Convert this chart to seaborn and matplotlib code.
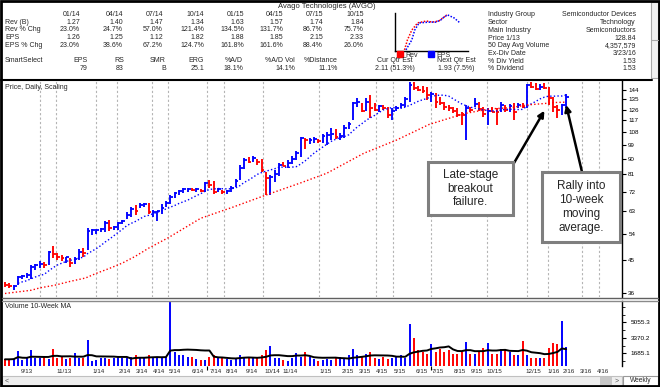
import numpy as np
import pandas as pd
import matplotlib.pyplot as plt
import seaborn as sns
from matplotlib.patches import Rectangle
from matplotlib.ticker import NullLocator, FixedLocator

# weekly bars, week 0 = first bar on the chart (Aug 2013)
high = [38.8, 38.6, 38.0, 40.5, 40.8, 41.2, 43.5, 43.9, 44.8, 44.5,
        48.0, 49.5, 47.3, 46.6, 46.2, 45.6, 46.0, 48.5, 49.0, 56.2,
        55.6, 55.8, 56.0, 59.0, 59.2, 57.0, 58.5, 59.3, 62.5, 65.0,
        65.5, 66.5, 66.8, 66.5, 63.3, 63.0, 66.0, 67.5, 70.2, 71.6,
        72.6, 73.6, 73.8, 73.8, 73.6, 73.5, 76.8, 77.7, 77.5, 73.8,
        72.8, 72.6, 74.6, 78.6, 86.0, 90.5, 91.0, 91.5, 90.2, 90.0,
        82.5, 80.5, 83.5, 87.5, 88.0, 89.0, 91.5, 95.0, 104.5, 104.0,
        103.5, 104.5, 103.0, 106.5, 108.0, 111.0, 110.0, 107.0, 113.0, 116.0,
        133.0, 136.0, 131.8, 136.0, 139.0, 132.0, 130.0, 130.0, 128.5, 127.5,
        129.0, 131.8, 137.0, 152.0, 152.0, 148.0, 148.0, 147.0, 141.8, 141.0,
        137.5, 133.0, 130.0, 128.0, 127.0, 124.0, 130.0, 128.0, 136.0, 133.0,
        128.0, 127.4, 128.3, 127.4, 132.7, 130.0, 131.0, 131.8, 131.8, 131.8,
        150.0, 152.0, 151.0, 150.0, 151.0, 147.0, 137.0, 130.0, 131.0, 139.9]
low = [37.5, 37.2, 36.8, 38.0, 39.5, 39.8, 39.6, 42.2, 42.6, 42.8,
       43.6, 45.8, 45.2, 44.8, 44.3, 43.0, 44.0, 45.0, 45.9, 48.4,
       53.5, 54.0, 54.5, 54.5, 55.0, 55.3, 55.5, 57.5, 59.8, 60.5,
       61.5, 64.5, 64.8, 61.8, 60.6, 59.0, 61.7, 64.6, 66.0, 68.9,
       70.2, 71.2, 72.0, 72.4, 71.8, 71.8, 72.0, 73.6, 71.0, 72.0,
       70.8, 71.0, 72.0, 74.1, 77.7, 83.8, 87.7, 88.0, 86.5, 82.5,
       70.5, 70.2, 77.0, 80.0, 85.5, 84.5, 87.0, 89.5, 91.0, 96.5,
       99.5, 100.3, 100.0, 100.0, 98.6, 102.3, 103.0, 102.3, 103.7, 110.0,
       117.0, 128.0, 124.0, 124.5, 119.0, 125.0, 124.0, 126.0, 119.0, 117.5,
       124.5, 127.5, 128.0, 132.7, 144.0, 143.0, 141.0, 134.5, 132.7, 127.4,
       130.0, 125.7, 125.0, 123.0, 120.0, 113.0, 102.3, 124.0, 128.0, 124.5,
       120.0, 113.0, 123.9, 113.0, 123.9, 123.9, 123.9, 117.5, 127.0, 127.0,
       127.4, 146.0, 144.0, 144.0, 145.0, 130.0, 123.9, 119.1, 121.5, 127.4]
close = [38.0, 37.8, 37.9, 40.3, 40.4, 40.6, 43.0, 43.5, 44.0, 43.5,
         47.5, 47.0, 46.0, 45.7, 45.9, 44.2, 45.5, 47.5, 47.2, 55.0,
         55.3, 55.5, 55.8, 58.0, 56.0, 56.4, 58.0, 59.0, 61.5, 63.8,
         63.2, 65.5, 66.0, 62.5, 62.7, 62.9, 64.5, 66.5, 69.5, 71.2,
         72.4, 73.2, 73.5, 73.0, 73.3, 72.5, 76.2, 75.5, 72.0, 73.2,
         71.6, 72.3, 74.0, 77.5, 84.5, 89.5, 88.3, 90.5, 88.0, 83.5,
         79.0, 79.5, 81.0, 86.0, 85.5, 87.5, 90.0, 93.5, 103.5, 102.0,
         102.5, 103.0, 101.5, 105.5, 106.0, 106.5, 104.5, 105.5, 111.0, 114.0,
         132.0, 133.0, 125.0, 133.0, 127.0, 126.0, 129.0, 127.5, 121.0, 124.5,
         127.5, 130.0, 135.0, 149.0, 145.5, 144.0, 143.0, 139.0, 140.0, 133.0,
         132.0, 128.5, 127.0, 124.5, 121.5, 121.0, 127.0, 126.0, 131.0, 126.5,
         122.0, 125.0, 124.0, 123.5, 130.0, 126.0, 129.0, 124.0, 130.0, 128.0,
         149.0, 147.0, 145.0, 147.0, 146.0, 136.0, 128.0, 126.0, 130.0, 137.0]
volume = [1030, 1030, 1100, 1940, 920, 1140, 2050, 1210, 1140, 1320,
          1030, 2160, 1210, 1320, 1030, 1140, 1690, 1140, 1140, 3100,
          820, 920, 1140, 1140, 1030, 1140, 1320, 1140, 1140, 1320,
          1500, 1140, 1140, 1500, 1210, 1320, 1140, 1320, 8200, 1870,
          1500, 1500, 1320, 1320, 1030, 920, 920, 1320, 1500, 1140,
          1320, 1030, 920, 1140, 1500, 1320, 1140, 1140, 1320, 1500,
          2050, 2480, 1210, 1140, 990, 820, 1140, 1760, 1320, 1870,
          1320, 1030, 820, 920, 1030, 920, 1140, 1320, 1140, 1500,
          2200, 1500, 1320, 1580, 1830, 1140, 1030, 1320, 1030, 1140,
          1320, 1500, 1140, 4910, 3350, 2010, 1830, 1650, 2740, 1830,
          2200, 1830, 2010, 1650, 1650, 1830, 2880, 1650, 1650, 1830,
          2260, 2810, 1650, 1650, 2200, 2010, 1830, 1500, 1500, 3040,
          1500, 1140, 1140, 1140, 1140, 2230, 2810, 2740, 5200, 2340]
prev_close = 38.6

# 40-week moving average
ma40_week = [0, 3, 6, 8, 11.5, 15, 18.5, 21, 24, 27, 30, 33, 37.5, 45, 52.5,
             60, 68, 74, 82.5, 90, 97.5, 105.5, 111.5, 116, 120, 124, 127, 129]
ma40_price = [35.9, 36.3, 36.7, 37.3, 38.0, 39.0, 39.9, 41.2, 42.6, 44.2, 46.3,
              48.9, 52.5, 60.0, 64.8, 70.3, 76.4, 81.6, 93.5, 102.3, 113.8,
              122.5, 126.6, 127.5, 130.0, 131.3, 132.3, 132.5]

price_ticks = [36, 45, 54, 63, 72, 81, 90, 99, 108, 117, 126, 135, 144]
vol_ticks = [1685.1, 3370.2, 5055.3]

date_labels = ["9/13", "11/13", "1/14", "2/14", "3/14", "4/14", "5/14", "6/14",
               "7/14", "8/14", "9/14", "10/14", "11/14", "1/15", "2/15", "3/15",
               "4/15", "5/15", "6/15", "7/15", "8/15", "9/15", "10/15", "12/15",
               "1/16", "2/16", "3/16", "4/16"]
date_weeks = [5.1, 13.6, 21.6, 27.6, 31.5, 35.4, 39.1, 44.4, 48.5, 52.2, 56.8,
              61.4, 65.5, 73.6, 78.9, 82.8, 86.7, 90.8, 95.9, 99.5, 104.6, 108.5,
              112.6, 121.4, 126.0, 129.7, 133.6, 137.5]
grid_weeks = [8.0, 11.7, 20.9, 25.7, 33.8, 37.5, 46.4, 50.3, 59.3, 72.2, 85.3,
              89.2, 97.9, 110.8, 120.0, 124.8, 132.6, 136.6]

quarters = ["01/14", "04/14", "07/14", "10/14", "01/15", "04/15", "07/15", "10/15"]
rev = ["1.27", "1.40", "1.47", "1.34", "1.63", "1.57", "1.74", "1.84"]
rev_chg = ["23.0%", "24.7%", "57.0%", "121.4%", "134.5%", "131.7%", "86.7%", "75.7%"]
eps = ["1.26", "1.25", "1.12", "1.82", "1.88", "1.85", "2.15", "2.33"]
eps_chg = ["23.0%", "38.6%", "67.2%", "124.7%", "161.8%", "161.6%", "88.4%", "26.0%"]
smart_names = ["EPS", "RS", "SMR", "ERG", "%A/D", "%A/D Vol", "%Distance"]
smart_vals = ["79", "83", "B", "25.1", "18.1%", "14.1%", "11.1%"]
info_names = ["Industry Group", "Sector", "Main Industry", "Price 1/13",
              "50 Day Avg Volume", "Ex-Div Date", "% Div Yield", "% Dividend"]
info_vals = ["Semiconductor Devices", "Technology", "Semiconductors", "128.84",
             "4,357,579", "3/23/16", "1.53", "1.53"]

mini_rev_x = [.13, .17, .23, .31, .43, .51, .60, .67, .71]
mini_rev_y = [.03, .29, .55, .74, .79, .76, .79, .89, .95]
mini_eps_x = [.15, .23, .27, .33, .47, .56, .63, .67, .72, .81, .89]
mini_eps_y = [.03, .29, .55, .74, .76, .76, .82, .89, .95, .87, .74]

sns.set_style("white")
plt.rcParams['font.family'] = ['Liberation Sans', 'DejaVu Sans']

df = pd.DataFrame({"high": high, "low": low, "close": close, "volume": volume})
df["week"] = np.arange(len(df))
chg = df["close"].diff()
chg.iloc[0] = df["close"].iloc[0] - prev_close
df["color"] = np.where(chg >= 0, "#0000ff", "#ff0000")
df["ma10"] = df["close"].rolling(10, min_periods=4).mean()
df["vol_ma"] = df["volume"].rolling(10, min_periods=1).mean()

W, H = 660, 387
BLUE, RED = "#0000ff", "#ff0000"


def box(x0, y0, x1, y1):
    # pixel rectangle (top-left origin) -> figure fraction
    return [x0 / W, 1 - y1 / H, (x1 - x0) / W, (y1 - y0) / H]


fig = plt.figure(figsize=(W / 100, H / 100), dpi=100)
ax_p = fig.add_axes(box(3, 81, 622, 297))
ax_v = fig.add_axes(box(3, 301, 622, 366))
ax_m = fig.add_axes(box(395, 13, 468, 51))
ov = fig.add_axes([0, 0, 1, 1], zorder=10)
ov.set_xlim(0, W)
ov.set_ylim(H, 0)
ov.axis("off")
ov.patch.set_visible(False)

xlim = ((3 - 5) / 4.35, (622 - 5) / 4.35)

# ---- price panel
for g in grid_weeks:
    ax_p.axvline(g, color="#b4b4b4", lw=0.8, ls=(0, (2, 2)), zorder=0)
ax_p.vlines(df["week"], df["low"], df["high"], colors=df["color"], lw=1.35)
ax_p.hlines(df["close"], df["week"], df["week"] + 0.65, colors=df["color"], lw=1.3)
sns.lineplot(data=df, x="week", y="ma10", color=BLUE, lw=1, ls=(0, (1, 1.6)), ax=ax_p)
sns.lineplot(x=ma40_week, y=ma40_price, color=RED, lw=1, ls=(0, (1, 1.6)), ax=ax_p)
ax_p.set_yscale("log")
ax_p.set_ylim(35.05, 153.1)
ax_p.set_xlim(*xlim)
ax_p.yaxis.tick_right()
ax_p.yaxis.set_major_locator(FixedLocator(price_ticks))
ax_p.yaxis.set_minor_locator(NullLocator())
ax_p.set_yticklabels([str(t) for t in price_ticks])
ax_p.set_xticks([])
ax_p.set_xlabel("")
ax_p.set_ylabel("")
ax_p.tick_params(axis="y", labelsize=4.5, length=3, width=0.8, pad=1.5, right=True, colors="black")
for s in ["left", "top", "bottom"]:
    ax_p.spines[s].set_visible(False)
ax_p.spines["right"].set_color("black")
ax_p.spines["right"].set_linewidth(1)
ax_p.text(0.003, 0.985, "Price, Daily, Scaling", transform=ax_p.transAxes,
          fontsize=5, va="top", ha="left")

# ---- volume panel
ax_v.vlines(df["week"], 0, df["volume"], colors=df["color"], lw=1.4)
sns.lineplot(data=df, x="week", y="vol_ma", color="black", lw=1.4, ax=ax_v)
ax_v.set_ylim(304, 7376)
ax_v.set_xlim(*xlim)
ax_v.yaxis.tick_right()
ax_v.set_yticks(vol_ticks)
ax_v.set_yticklabels([f"{v:.1f}" for v in vol_ticks])
ax_v.yaxis.set_minor_locator(FixedLocator([843, 2528, 4213, 5898, 6740]))
ax_v.tick_params(axis="y", which="major", labelsize=4.6, length=3, width=0.8, pad=3, colors="black")
ax_v.tick_params(axis="y", which="minor", length=2, width=0.7, right=True, left=False)
ax_v.set_xticks(date_weeks)
ax_v.set_xticklabels(date_labels)
ax_v.tick_params(axis="x", labelsize=4.5, length=0, pad=2.5)
ax_v.set_xlabel("")
ax_v.set_ylabel("")
for s in ["left", "top", "bottom"]:
    ax_v.spines[s].set_visible(False)
ax_v.spines["right"].set_color("black")
ax_v.spines["right"].set_linewidth(1)
ax_v.vlines([46.4, 97.9], -0.06, 0, transform=ax_v.get_xaxis_transform(),
            colors="black", lw=0.8, clip_on=False)
ax_v.text(0.003, 0.97, "Volume 10-Week MA", transform=ax_v.transAxes,
          fontsize=5, va="top", ha="left")

# ---- mini rev / eps chart
sns.lineplot(x=mini_rev_x, y=mini_rev_y, color=RED, lw=1.1, ls=(0, (1, 1)), ax=ax_m, sort=False)
sns.lineplot(x=mini_eps_x, y=mini_eps_y, color=BLUE, lw=1.1, ls=(0, (1, 1)), ax=ax_m, sort=False)
ax_m.set_xlim(0, 1)
ax_m.set_ylim(0, 1)
ax_m.set_xticks([])
ax_m.set_yticks([])
ax_m.set_xlabel("")
ax_m.set_ylabel("")
for s in ["right", "top"]:
    ax_m.spines[s].set_visible(False)
for s in ["left", "bottom"]:
    ax_m.spines[s].set_color("black")
    ax_m.spines[s].set_linewidth(1)
ov.add_patch(Rectangle((397, 51), 6, 6, color=RED))
ov.text(405, 55.5, "Rev", fontsize=5, va="center")
ov.add_patch(Rectangle((428, 51), 6, 6, color=BLUE))
ov.text(436, 55.5, "EPS", fontsize=5, va="center")

# ---- header table
fs = 5
ov.text(327, 6, "Avago Technologies (AVGO)", fontsize=5.5, ha="center", va="center")
col_right = [80, 123, 163, 204, 244, 283, 323, 364]
for lab, yy in zip(["Rev (B)", "Rev % Chg", "EPS", "EPS % Chg"], [22, 29.7, 37.4, 45.1]):
    ov.text(5, yy, lab, fontsize=fs, va="center")
for k, xr in enumerate(col_right):
    ov.text(xr, 14, quarters[k], fontsize=fs, va="center", ha="right")
    ov.text(xr, 22, rev[k], fontsize=fs, va="center", ha="right")
    ov.text(xr, 29.7, rev_chg[k], fontsize=fs, va="center", ha="right")
    ov.text(xr, 37.4, eps[k], fontsize=fs, va="center", ha="right")
    ov.text(xr, 45.1, eps_chg[k], fontsize=fs, va="center", ha="right")
ov.text(5, 60, "SmartSelect", fontsize=fs, va="center")
smart_right = [88, 124, 166, 204, 243, 295, 338]
for name, val, xr in zip(smart_names, smart_vals, smart_right):
    ov.text(xr, 60, name, fontsize=fs, va="center", ha="right")
    ov.text(xr, 68, val, fontsize=fs, va="center", ha="right")
ov.text(395, 61, "Cur Qtr Est", fontsize=fs, va="center", ha="center")
ov.text(395, 69, "2.11 (51.3%)", fontsize=fs, va="center", ha="center")
ov.text(456, 61, "Next Qtr Est", fontsize=fs, va="center", ha="center")
ov.text(456, 69, "1.93 (7.5%)", fontsize=fs, va="center", ha="center")
for k, (name, val) in enumerate(zip(info_names, info_vals)):
    yy = 15 + 7.7 * k
    ov.text(488, yy, name, fontsize=fs, va="center", ha="left")
    ov.text(636, yy, val, fontsize=fs, va="center", ha="right")

# ---- frame, separators, scroll bars
ov.plot([1, 652], [80, 80], color="black", lw=1.5)
ov.plot([2, 658], [298, 298], color="#606060", lw=1)
ov.plot([2, 658], [301, 301], color="#8a8a8a", lw=1)
ov.add_patch(Rectangle((651, 2), 7, 76, fc="#f0f0f0", ec="#a8a8a8", lw=0.8))
ov.plot([651, 658], [40, 40], color="#a8a8a8", lw=0.8)
ov.add_patch(Rectangle((2, 376), 620, 10, fc="#eeeeee", ec="#c0c0c0", lw=0.8))
ov.add_patch(Rectangle((600, 377), 12, 8, fc="#c6c6c6", ec="none"))
ov.text(7, 381, "<", fontsize=5, va="center", ha="center", color="#505050")
ov.text(617, 381, ">", fontsize=5, va="center", ha="center", color="#505050")
ov.add_patch(Rectangle((623, 376), 35, 10, fc="white", ec="#999999", lw=0.8))
ov.text(640.5, 381, "Weekly", fontsize=4.8, va="center", ha="center")
ov.add_patch(Rectangle((1, 1), 658, 385, fill=False, ec="black", lw=2))

# ---- call-outs
ov.annotate("", xy=(124, 125), xycoords=ax_p.transData, xytext=(514, 163),
            textcoords="data", zorder=3,
            arrowprops=dict(arrowstyle="-|>", color="black", lw=1.8,
                            mutation_scale=9, shrinkA=0, shrinkB=0))
ov.annotate("", xy=(129, 130), xycoords=ax_p.transData, xytext=(582, 172),
            textcoords="data", zorder=3,
            arrowprops=dict(arrowstyle="-|>", color="black", lw=1.8,
                            mutation_scale=9, shrinkA=0, shrinkB=0))
ov.add_patch(Rectangle((428, 162), 85, 53, fc="white", ec="#7f7f7f", lw=2.2, zorder=4))
ov.text(470.5, 188.5, "Late-stage\nbreakout\nfailure.", fontsize=8.5, ha="center",
        va="center", linespacing=1.2, zorder=5)
ov.add_patch(Rectangle((542, 172), 78, 70, fc="white", ec="#7f7f7f", lw=2.2, zorder=4))
ov.text(581, 207, "Rally into\n10-week\nmoving\naverage.", fontsize=8.5, ha="center",
        va="center", linespacing=1.2, zorder=5)

fig.savefig("out.png", dpi=100)
